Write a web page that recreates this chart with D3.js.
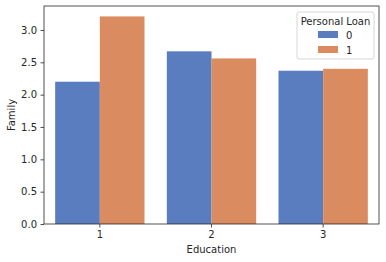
<!DOCTYPE html>
<meta charset="utf-8">
<style>
    html, body { margin: 0; padding: 0; background: #fff; }
    svg text { font-family: 'DejaVu Sans', sans-serif; fill: #262626; }
</style>
<html>
<head>
    <script src="https://d3js.org/d3.v7.min.js"></script>
</head>
<body>
<svg id="chart" width="386" height="262"></svg>
<script>
    var education = ["1", "2", "3"];
    var loans = ["0", "1"];
    var family0 = [2.20, 2.67, 2.37];
    var family1 = [3.21, 2.56, 2.40];
    var yTicks = [0, 0.5, 1.0, 1.5, 2.0, 2.5, 3.0];
    var colors = ["#597dbf", "#da8b5f"];

    var mLeft = 44, mRight = 379, mTop = 6, mBottom = 224;
    var svg = d3.select("#chart");

    // seaborn: each category width 1, bars take 0.8
    var x = d3.scaleBand().domain(education).range([mLeft, mRight]).paddingInner(0.2).paddingOuter(0.1);
    var xs = d3.scaleBand().domain(loans).range([0, x.bandwidth()]);
    var y = d3.scaleLinear().domain([0, 3.371]).range([mBottom, mTop]);

    var rows = education.map(function (e, i) { return { e: e, v: [family0[i], family1[i]] }; });

    var g = svg.selectAll("g.cat").data(rows).enter().append("g")
        .attr("transform", function (d) { return "translate(" + x(d.e) + ",0)"; });
    g.selectAll("rect").data(function (d) { return d.v.map(function (v, j) { return { k: loans[j], v: v }; }); })
        .enter().append("rect")
        .attr("x", function (d) { return xs(d.k); })
        .attr("width", xs.bandwidth())
        .attr("y", function (d) { return y(d.v); })
        .attr("height", function (d) { return mBottom - y(d.v); })
        .attr("fill", function (d, j) { return colors[j]; });

    // axes
    var yAxis = svg.append("g").attr("transform", "translate(" + mLeft + ",0)")
        .call(d3.axisLeft(y).tickValues(yTicks).tickFormat(d3.format(".1f")).tickSize(3.5).tickPadding(3.5));
    var xAxis = svg.append("g").attr("transform", "translate(0," + mBottom + ")")
        .call(d3.axisBottom(x).tickSize(3.5).tickPadding(3.5));
    [xAxis, yAxis].forEach(function (a) {
        a.selectAll("text").style("font-size", "10px").style("font-family", "'DejaVu Sans', sans-serif").attr("fill", "#262626");
        a.selectAll("line").attr("stroke", "#262626").attr("stroke-width", 0.8);
        a.select(".domain").remove();
    });

    // spines
    svg.append("rect").attr("x", mLeft).attr("y", mTop).attr("width", mRight - mLeft).attr("height", mBottom - mTop)
        .attr("fill", "none").attr("stroke", "#262626").attr("stroke-width", 0.8);

    svg.append("text").attr("x", (mLeft + mRight) / 2).attr("y", 253).attr("text-anchor", "middle")
        .style("font-size", "10px").text("Education");
    svg.append("text").attr("transform", "translate(15," + (mTop + mBottom) / 2 + ") rotate(-90)")
        .attr("text-anchor", "middle").style("font-size", "10px").text("Family");

    // legend
    var lg = svg.append("g");
    lg.append("rect").attr("x", 297).attr("y", 12).attr("width", 77).attr("height", 47).attr("rx", 2)
        .attr("fill", "#fff").attr("fill-opacity", 0.8).attr("stroke", "#cccccc").attr("stroke-width", 0.8);
    lg.append("text").attr("x", 335.5).attr("y", 25).attr("text-anchor", "middle")
        .style("font-size", "10px").text("Personal Loan");
    loans.forEach(function (k, j) {
        lg.append("rect").attr("x", 318).attr("y", 31 + j * 15).attr("width", 20).attr("height", 7).attr("fill", colors[j]);
        lg.append("text").attr("x", 346).attr("y", 38.5 + j * 15).style("font-size", "10px").text(k);
    });
</script>
</body>
</html>
